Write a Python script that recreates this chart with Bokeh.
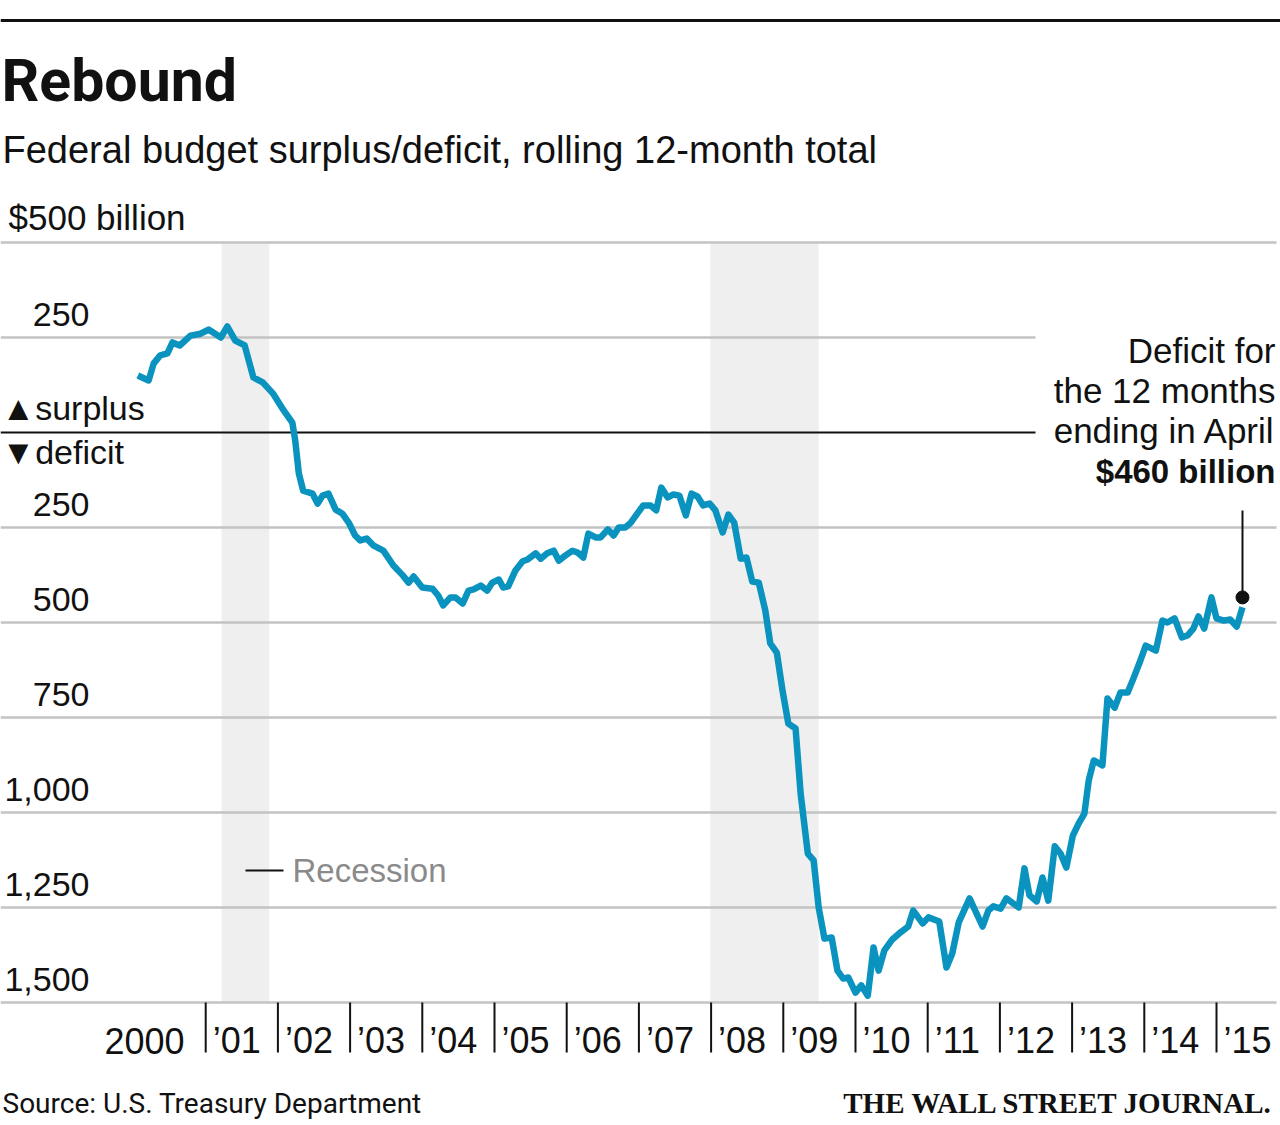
from bokeh.plotting import figure
from bokeh.models import Range1d
from bokeh.core.properties import value
from bokeh.embed import file_html
from bokeh.resources import INLINE

# ---------------- data ----------------
years = [2000.06, 2000.21, 2000.28, 2000.37, 2000.47, 2000.54, 2000.64, 2000.79, 2000.93,
         2001.04, 2001.21, 2001.30, 2001.41, 2001.54, 2001.66, 2001.79, 2001.93,
         2002.08, 2002.20, 2002.24, 2002.29, 2002.35, 2002.48, 2002.55, 2002.62, 2002.70,
         2002.80, 2002.89, 2002.98, 2003.07, 2003.14, 2003.23, 2003.32, 2003.46, 2003.60,
         2003.73, 2003.81, 2003.88, 2004.00, 2004.14, 2004.22, 2004.29, 2004.39, 2004.46,
         2004.56, 2004.64, 2004.71, 2004.81, 2004.90, 2004.97, 2005.06, 2005.12, 2005.19,
         2005.29, 2005.39, 2005.46, 2005.57, 2005.64, 2005.73, 2005.82, 2005.89, 2005.98,
         2006.08, 2006.15, 2006.23, 2006.30, 2006.40, 2006.47, 2006.57, 2006.65, 2006.72,
         2006.81, 2006.88, 2006.98, 2007.06, 2007.16, 2007.24, 2007.31, 2007.40, 2007.48,
         2007.56, 2007.65, 2007.73, 2007.81, 2007.89, 2007.98, 2008.06, 2008.16, 2008.24,
         2008.32, 2008.41, 2008.49, 2008.57, 2008.66, 2008.75, 2008.82, 2008.91, 2008.99,
         2009.07, 2009.17, 2009.24, 2009.34, 2009.42, 2009.49, 2009.57, 2009.67, 2009.75,
         2009.83, 2009.90, 2010.00, 2010.08, 2010.17, 2010.25, 2010.32, 2010.40, 2010.51,
         2010.62, 2010.73, 2010.80, 2010.93, 2011.01, 2011.16, 2011.26, 2011.34, 2011.43,
         2011.58, 2011.76, 2011.84, 2011.91, 2012.01, 2012.09, 2012.26, 2012.34, 2012.41,
         2012.51, 2012.59, 2012.67, 2012.76, 2012.84, 2012.92, 2013.01, 2013.09, 2013.17,
         2013.23, 2013.30, 2013.42, 2013.49, 2013.59, 2013.67, 2013.77, 2013.85, 2013.93,
         2014.02, 2014.16, 2014.25, 2014.32, 2014.42, 2014.52, 2014.60, 2014.68, 2014.75,
         2014.83, 2014.93, 2015.00, 2015.10, 2015.19, 2015.28, 2015.36]

balance = [150, 137, 182, 203, 208, 237, 229, 255, 260,
           271, 250, 279, 242, 229, 145, 132, 103,
           58, 26, -21, -108, -153, -161, -187, -166, -161,
           -203, -213, -237, -271, -284, -279, -297, -311, -350,
           -376, -395, -379, -408, -411, -429, -455, -434, -434,
           -450, -416, -413, -403, -416, -395, -387, -408, -405,
           -363, -339, -334, -318, -332, -318, -311, -337, -324,
           -311, -316, -329, -266, -276, -276, -255, -271, -250,
           -250, -239, -213, -192, -192, -205, -145, -171, -163,
           -166, -218, -161, -168, -192, -187, -205, -263, -216,
           -237, -332, -329, -392, -395, -468, -555, -579, -680,
           -766, -779, -950, -1108, -1126, -1250, -1332, -1329, -1416,
           -1437, -1434, -1474, -1455, -1482, -1355, -1416, -1363, -1334,
           -1316, -1300, -1258, -1292, -1276, -1287, -1408, -1371, -1289,
           -1226, -1300, -1258, -1247, -1253, -1226, -1250, -1147, -1218,
           -1234, -1171, -1232, -1089, -1108, -1145, -1061, -1029, -1003,
           -916, -863, -876, -700, -724, -684, -684, -647, -608,
           -561, -574, -495, -500, -489, -539, -534, -516, -484,
           -516, -434, -489, -495, -492, -511, -460]

recession_start = [2001.22, 2007.99]
recession_end = [2001.88, 2009.49]

grid_values = [500, -250, -500, -750, -1000, -1250, -1500]
short_grid_values = [250]
ytick_values = [250, -250, -500, -750, -1000, -1250, -1500]
ytick_labels = ["250", "250", "500", "750", "1,000", "1,250", "1,500"]

tick_years = list(range(2001, 2016))
xtick_labels = ["\u2019%02d" % (y % 100) for y in tick_years]

# ---------------- layout helpers ----------------
W, H = 1280, 1125
X_ORIGIN, PX_PER_YEAR = 133.0, 72.2
Y_ZERO, PX_PER_UNIT = 432.0, 0.38
BASE_SHIFT = 0.36  # fraction of font size: compensates renderer baseline offset


def dx(rx):
    return 2000 + (rx - X_ORIGIN) / PX_PER_YEAR


def dy(ry):
    return (Y_ZERO - ry) / PX_PER_UNIT


SANS = "Liberation Sans"
COND = "Roboto"
BLUE = "#0a93bf"
GRID = "#c3c3c3"
INK = "#111111"

p = figure(width=W, height=H,
           x_range=Range1d(dx(0), dx(W)),
           y_range=Range1d(dy(H), dy(0)),
           output_backend="svg", toolbar_location=None,
           x_axis_type=None, y_axis_type=None, min_border=0)
p.outline_line_color = None
p.background_fill_color = "white"
p.border_fill_color = "white"


def txt(rx, ry, s, size, font=SANS, style="normal", color=INK, align="left"):
    p.text(x=[dx(rx)], y=[dy(ry - BASE_SHIFT * size)], text=[s],
           text_font=value(font), text_font_size=value(f"{size}px"),
           text_font_style=value(style), text_color=color,
           text_align=value(align), text_baseline=value("alphabetic"))


# recession shading
p.quad(left=recession_start, right=recession_end,
       bottom=min(grid_values), top=max(grid_values),
       fill_color="#efefef", line_color=None)

# top rule
p.segment(x0=[dx(0)], x1=[dx(1280)], y0=[dy(20)], y1=[dy(20)],
          line_color=INK, line_width=3)

# gridlines
p.segment(x0=[dx(0)] * len(grid_values), x1=[dx(1276)] * len(grid_values),
          y0=grid_values, y1=grid_values, line_color=GRID, line_width=2.5)
p.segment(x0=[dx(0)] * len(short_grid_values), x1=[dx(1035)] * len(short_grid_values),
          y0=short_grid_values, y1=short_grid_values, line_color=GRID, line_width=2.5)
# zero line
p.segment(x0=[dx(0)], x1=[dx(1035)], y0=[0], y1=[0], line_color=INK, line_width=2)

# year ticks
p.segment(x0=tick_years, x1=tick_years, y0=[min(grid_values)] * len(tick_years),
          y1=[dy(1052)] * len(tick_years), line_color=INK, line_width=2)

# data line
p.line(years, balance, line_color=BLUE, line_width=6.5, line_join="round")

# end-point callout
last_x = years[-1]
p.segment(x0=[last_x], x1=[last_x], y0=[balance[-1] + 26], y1=[dy(510)],
          line_color=INK, line_width=2)
p.scatter([last_x], [balance[-1] + 26], size=13, color=INK)

# y labels
YL = 34
p.text(x=[dx(89)] * len(ytick_values),
       y=[v + (11 + BASE_SHIFT * YL) / PX_PER_UNIT for v in ytick_values],
       text=ytick_labels, text_font=value(SANS), text_font_size=value(f"{YL}px"),
       text_color=INK, text_align=value("right"), text_baseline=value("alphabetic"))
txt(8, 230, "$500 billion", 35)

# x labels
XL = 36
p.text(x=[dx(184)], y=[dy(1053 - BASE_SHIFT * XL)], text=["2000"], text_font=value(SANS),
       text_font_size=value(f"{XL}px"), text_color=INK,
       text_align=value("right"), text_baseline=value("alphabetic"))
p.text(x=[y + 7 / PX_PER_YEAR for y in tick_years],
       y=[dy(1053 - BASE_SHIFT * XL)] * len(tick_years),
       text=xtick_labels, text_font=value(SANS), text_font_size=value(f"{XL}px"),
       text_color=INK, text_align=value("left"), text_baseline=value("alphabetic"))

# titles
txt(1, 101, "Rebound", 59, font=COND, style="bold")
txt(2, 163, "Federal budget surplus/deficit, rolling 12-month total", 38)

# surplus / deficit
txt(1, 420, "\u25b2surplus", 34)
txt(1, 464, "\u25bcdeficit", 34)

# recession legend
p.segment(x0=[dx(245)], x1=[dx(283)], y0=[dy(870)], y1=[dy(870)],
          line_color=INK, line_width=2)
txt(292, 882, "Recession", 33, color="#8a8a8a")

# annotation
txt(1275, 363, "Deficit for", 35, align="right")
txt(1275, 403, "the 12 months", 35, align="right")
txt(1275, 443, "ending in April", 35, align="right")
txt(1275, 483, "$460 billion", 33, style="bold", align="right")

# footer
txt(2, 1113, "Source: U.S. Treasury Department", 28, font=COND)
txt(1273, 1113, "THE WALL STREET JOURNAL.", 29, font="Liberation Serif",
    style="bold", align="right")

open("out.html", "w").write(file_html(p, INLINE))
